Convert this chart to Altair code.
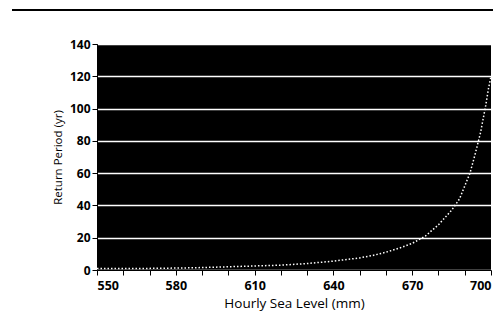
import altair as alt
import pandas as pd

sea_level = [550, 560, 570, 580, 590, 600, 610, 620, 630, 640, 645, 650, 655, 660,
             665, 670, 675, 680, 685, 688, 690, 692, 694, 696, 698, 699, 700]
return_period = [1, 1, 1, 1.2, 1.5, 2, 2.5, 3, 4, 5.5, 6.5, 7.5, 9, 11,
                 13.5, 16.5, 21, 28, 37, 44, 52, 60, 72, 85, 102, 112, 120]
x_ticks = list(range(550, 701, 10))
y_ticks = [0, 20, 40, 60, 80, 100, 120, 140]

df = pd.DataFrame({"x": sea_level, "y": return_period})
FONT = "Open Sans"

x_enc = alt.X("x:Q", scale=alt.Scale(domain=[550, 700], nice=False),
              axis=alt.Axis(values=x_ticks, grid=False, title="Hourly Sea Level (mm)",
                            labelExpr="(datum.value - 550) % 30 == 0 ? datum.label : ''",
                            labelFont=FONT, labelFontSize=12.5, labelFontWeight="bold",
                            labelColor="black", titleFont=FONT, titleFontSize=13.5,
                            titleFontWeight="normal", titleColor="black", titlePadding=5,
                            domainColor="black", tickColor="black", tickSize=5,
                            labelPadding=4))
y_enc = alt.Y("y:Q", scale=alt.Scale(domain=[0, 140], nice=False),
              axis=alt.Axis(values=y_ticks, grid=True, gridColor="white", gridWidth=1.5,
                            title="Return Period (yr)", labelFont=FONT, labelFontSize=12,
                            labelFontWeight="bold", labelColor="black",
                            titleFont=FONT, titleFontSize=11.5, titleFontWeight="normal",
                            titleColor="black", titlePadding=6,
                            domainColor="black", tickColor="black", tickSize=5,
                            labelPadding=2))

curve = alt.Chart(df).mark_line(color="white", strokeWidth=1.5, strokeDash=[1.5, 2]).encode(
    x=x_enc, y=y_enc)

top_rule = alt.Chart(df).mark_rule(color="black", strokeWidth=1.5).encode(
    x=alt.value(-85), x2=alt.value(404), y=alt.value(-34))

chart = alt.layer(curve, top_rule).properties(
    width=394, height=226,
    autosize=alt.AutoSizeParams(type="none"),
    padding={"left": 89, "top": 36, "right": 2, "bottom": 48},
    background="white",
).configure_view(fill="black", stroke=None)

chart.save("out.html", embed_options={"renderer": "svg", "actions": False})
